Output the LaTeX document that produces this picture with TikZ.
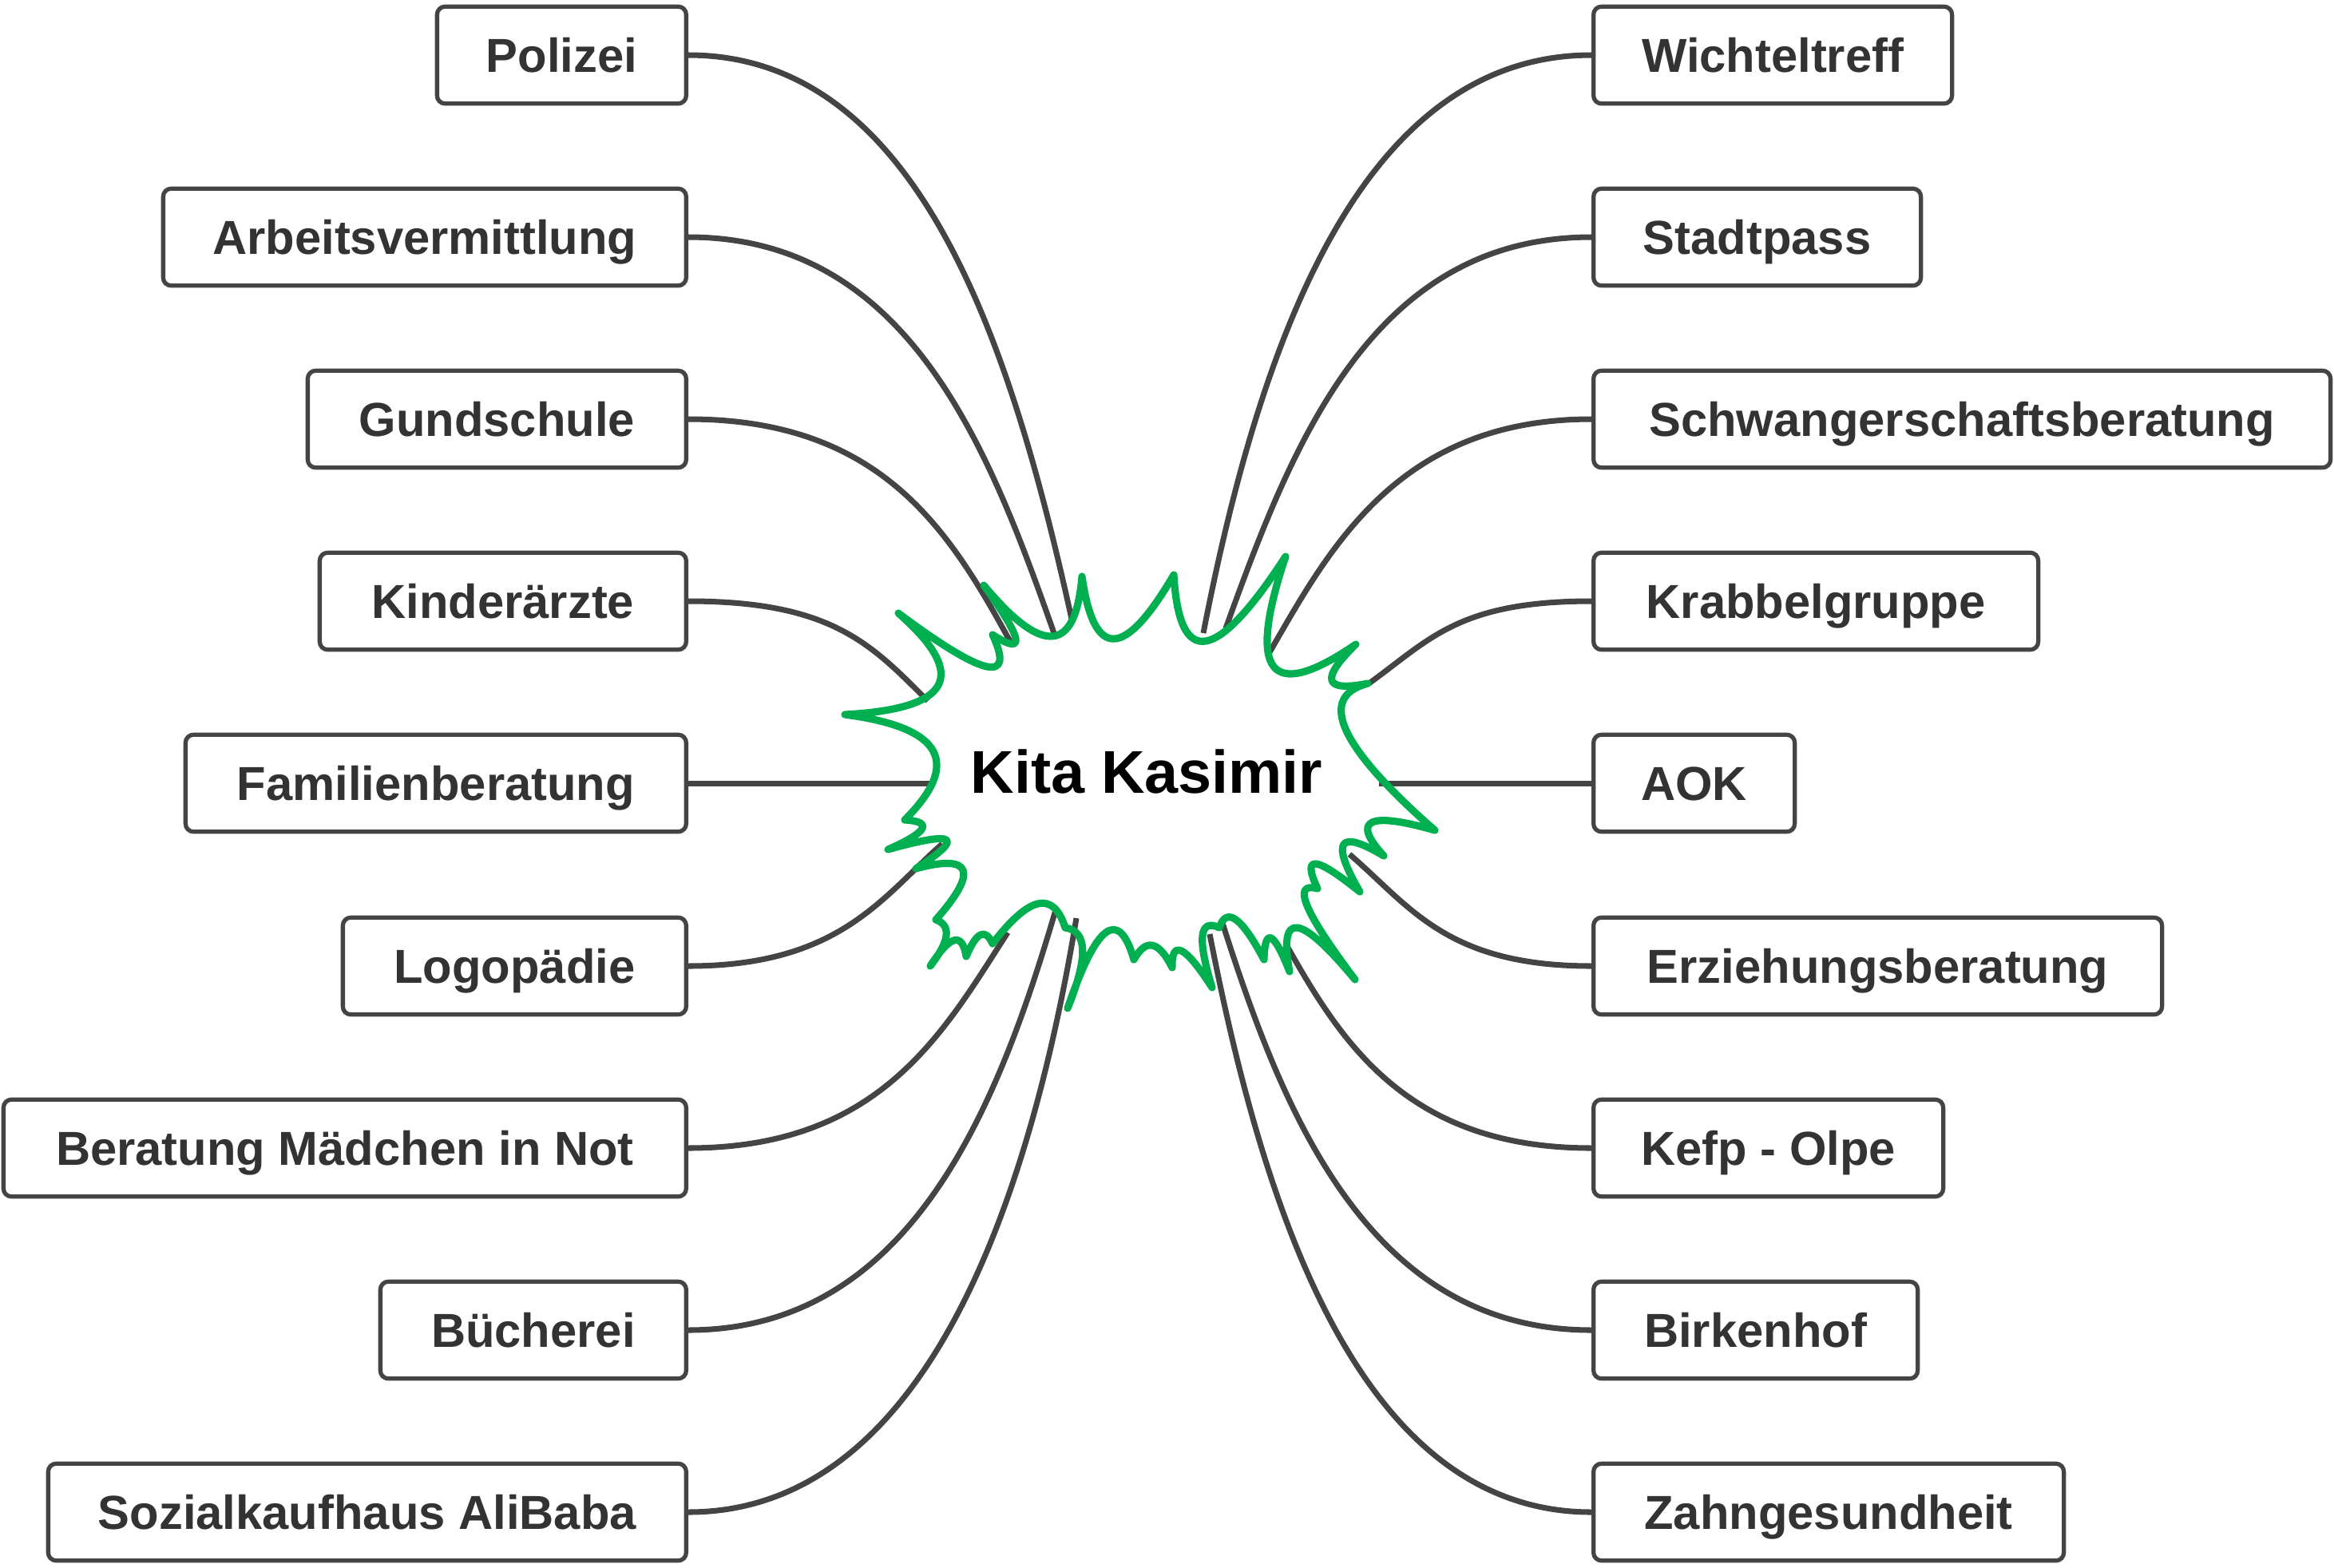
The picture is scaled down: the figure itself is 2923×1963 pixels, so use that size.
\documentclass[tikz,border=0pt]{standalone}
\usepackage{fontspec}
\setmainfont{Liberation Sans}
\definecolor{linegray}{HTML}{444444}
\definecolor{labelgray}{HTML}{333333}
\definecolor{burstgreen}{HTML}{00B050}

\begin{document}
\begin{tikzpicture}[
        x=0.1mm, y=-0.1mm,
        box/.style={rectangle, draw=linegray, fill=white, line width=1.5pt, rounded corners=1mm,
            minimum height=1.215cm, inner sep=0pt, text height=12.2pt, text depth=0pt,
            font=\fontsize{17}{20}\selectfont\bfseries, text=labelgray},
        link/.style={draw=linegray, line width=2pt},
        burst/.style={draw=burstgreen, line width=2.6pt, line join=round, line cap=round}
    ]
    \useasboundingbox (0,0) rectangle (2923,1963);

    % Centre
    \node[anchor=base, font=\fontsize{21.5}{24}\selectfont\bfseries] (kita) at (1436,993) {Kita Kasimir};

    % Left column
    \node[box, anchor=east, minimum width=3.12cm] (polizei) at (862,69) {Polizei};
    \node[box, anchor=east, minimum width=6.55cm] (arbeit) at (862,297) {Arbeitsvermittlung};
    \node[box, anchor=east, minimum width=4.74cm] (schule) at (862,525) {Gundschule};
    \node[box, anchor=east, minimum width=4.59cm] (kinder) at (862,753) {Kinderärzte};
    \node[box, anchor=east, minimum width=6.27cm] (familie) at (862,981) {Familienberatung};
    \node[box, anchor=east, minimum width=4.30cm] (logo) at (862,1210) {Logopädie};
    \node[box, anchor=east, minimum width=8.55cm] (maedchen) at (862,1438) {Beratung Mädchen in Not};
    \node[box, anchor=east, minimum width=3.83cm] (buecher) at (862,1666) {Bücherei};
    \node[box, anchor=east, minimum width=7.99cm] (sozial) at (862,1894) {Sozialkaufhaus AliBaba};

    % Right column
    \node[box, anchor=west, minimum width=4.49cm] (wichtel) at (1993,69) {Wichteltreff};
    \node[box, anchor=west, minimum width=4.10cm] (stadt) at (1993,297) {Stadtpass};
    \node[box, anchor=west, minimum width=9.23cm] (schwanger) at (1993,525) {Schwangerschaftsberatung};
    \node[box, anchor=west, minimum width=5.57cm] (krabbel) at (1993,753) {Krabbelgruppe};
    \node[box, anchor=west, minimum width=2.52cm] (aok) at (1993,981) {AOK};
    \node[box, anchor=west, minimum width=7.12cm] (erziehung) at (1993,1210) {Erziehungsberatung};
    \node[box, anchor=west, minimum width=4.38cm] (kefp) at (1993,1438) {Kefp - Olpe};
    \node[box, anchor=west, minimum width=4.06cm] (birken) at (1993,1666) {Birkenhof};
    \node[box, anchor=west, minimum width=5.89cm] (zahn) at (1993,1894) {Zahngesundheit};

    % Where the links meet the burst
    \coordinate (polizei-in) at (1342,775);
    \coordinate (arbeit-in) at (1320,793);
    \coordinate (schule-in) at (1267,807);
    \coordinate (kinder-in) at (1162,878);
    \coordinate (familie-in) at (1165,981);
    \coordinate (logo-in) at (1180,1057);
    \coordinate (maedchen-in) at (1262,1168);
    \coordinate (buecher-in) at (1322,1140);
    \coordinate (sozial-in) at (1348,1150);
    \coordinate (wichtel-in) at (1507,793);
    \coordinate (stadt-in) at (1535,787);
    \coordinate (schwanger-in) at (1590,817);
    \coordinate (krabbel-in) at (1713,857);
    \coordinate (aok-in) at (1727,981);
    \coordinate (erziehung-in) at (1690,1070);
    \coordinate (kefp-in) at (1613,1187);
    \coordinate (birken-in) at (1530,1153);
    \coordinate (zahn-in) at (1515,1170);

    % Links, left
    \draw[link] (polizei.east) .. controls +(288,0) and +(-76,-345) .. (polizei-in);
    \draw[link] (arbeit.east) .. controls +(275,0) and +(-82,-233) .. (arbeit-in);
    \draw[link] (schule.east) .. controls +(243,0) and +(-77,-141) .. (schule-in);
    \draw[link] (kinder.east) .. controls +(180,0) and +(-71,-71) .. (kinder-in);
    \draw[link] (familie.east) -- (familie-in);
    \draw[link] (logo.east) .. controls +(190,0) and +(-75,66) .. (logo-in);
    \draw[link] (maedchen.east) .. controls +(240,0) and +(-81,126) .. (maedchen-in);
    \draw[link] (buecher.east) .. controls +(276,0) and +(-74,252) .. (buecher-in);
    \draw[link] (sozial.east) .. controls +(292,0) and +(-61,367) .. (sozial-in);

    % Links, right
    \draw[link] (wichtel.west) .. controls +(-292,0) and +(69,-355) .. (wichtel-in);
    \draw[link] (stadt.west) .. controls +(-275,0) and +(83,-230) .. (stadt-in);
    \draw[link] (schwanger.west) .. controls +(-242,0) and +(75,-130) .. (schwanger-in);
    \draw[link] (krabbel.west) .. controls +(-168,0) and +(77,-55) .. (krabbel-in);
    \draw[link] (aok.west) -- (aok-in);
    \draw[link] (erziehung.west) .. controls +(-182,0) and +(76,65) .. (erziehung-in);
    \draw[link] (kefp.west) .. controls +(-228,0) and +(69,122) .. (kefp-in);
    \draw[link] (birken.west) .. controls +(-278,0) and +(77,243) .. (birken-in);
    \draw[link] (zahn.west) .. controls +(-287,0) and +(69,355) .. (zahn-in);

    % Burst round the centre
    \draw[burst] (1058,895)
        .. controls (1192,888) and (1214,846) .. (1125,768)
        .. controls (1232,848) and (1272,857) .. (1243,795)
        .. controls (1285,822) and (1282,802) .. (1232,733)
        .. controls (1306,822) and (1347,818) .. (1355,722)
        .. controls (1370,827) and (1408,826) .. (1470,720)
        .. controls (1477,838) and (1523,831) .. (1610,697)
        .. controls (1561,844) and (1590,881) .. (1698,807)
        .. controls (1653,851) and (1658,867) .. (1713,856)
        .. controls (1649,873) and (1677,935) .. (1797,1040)
        .. controls (1713,1016) and (1692,1027) .. (1733,1072)
        .. controls (1676,1038) and (1666,1053) .. (1703,1117)
        .. controls (1647,1072) and (1630,1070) .. (1650,1113)
        .. controls (1617,1104) and (1633,1142) .. (1697,1227)
        .. controls (1628,1144) and (1601,1140) .. (1615,1217)
        .. controls (1595,1166) and (1584,1161) .. (1583,1202)
        .. controls (1555,1149) and (1536,1135) .. (1527,1162)
        .. controls (1502,1150) and (1499,1175) .. (1518,1237)
        .. controls (1484,1184) and (1467,1176) .. (1468,1212)
        .. controls (1451,1178) and (1435,1175) .. (1420,1202)
        .. controls (1401,1136) and (1373,1157) .. (1337,1263)
        .. controls (1363,1199) and (1362,1166) .. (1334,1162)
        .. controls (1319,1115) and (1289,1122) .. (1243,1182)
        .. controls (1234,1162) and (1223,1167) .. (1210,1198)
        .. controls (1205,1167) and (1190,1171) .. (1165,1210)
        .. controls (1189,1179) and (1192,1159) .. (1172,1152)
        .. controls (1226,1091) and (1217,1069) .. (1147,1088)
        .. controls (1209,1048) and (1198,1040) .. (1112,1064)
        .. controls (1162,1042) and (1169,1029) .. (1133,1027)
        .. controls (1205,955) and (1180,911) .. (1058,895) -- cycle;

\end{tikzpicture}
\end{document}
